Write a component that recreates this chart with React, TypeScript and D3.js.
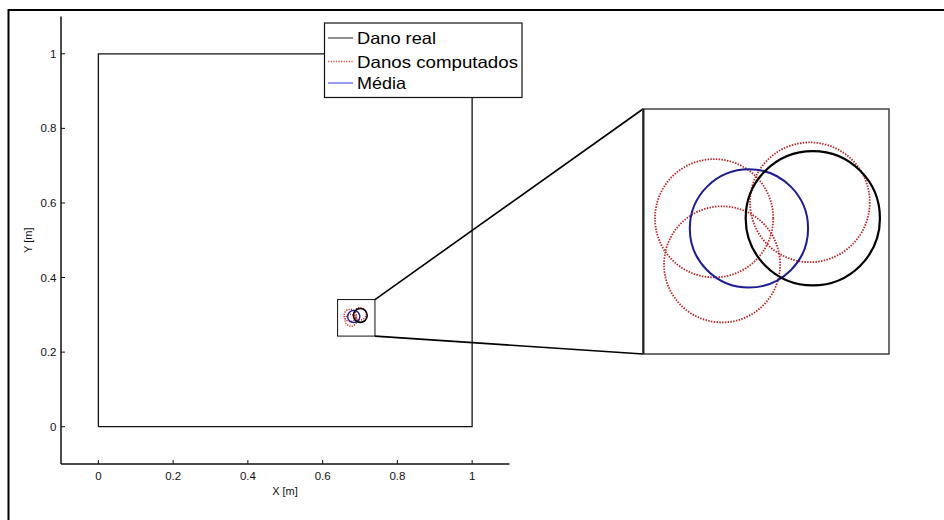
import React from "react";
import * as d3 from "d3";

// ---- data ----
const plateX = [0, 1, 1, 0, 0];
const plateY = [0, 0, 1, 1, 0];

const realDamage = { cx: 0.7008, cy: 0.2984, r: 0.0185 };
const computedCx = [0.6736, 0.7, 0.6758];
const computedCy = [0.2984, 0.3028, 0.2857];
const computedR = [0.0163, 0.0165, 0.016];
const meanDamage = { cx: 0.6832, cy: 0.2956, r: 0.0163 };

const zoomBoxX = [0.64, 0.74];
const zoomBoxY = [0.243, 0.341];
const insetDomainX = [0.654, 0.7218];
const insetDomainY = [0.2610, 0.3285];

const xTicks = [0, 0.2, 0.4, 0.6, 0.8, 1];
const yTicks = [0, 0.2, 0.4, 0.6, 0.8, 1];
const xDomain = [-0.1, 1.1];
const yDomain = [-0.1, 1.1];

const legendLabels = ["Dano real", "Danos computados", "Média"];

const W = 944;
const H = 520;
const FONT = "'Liberation Sans', Arial, Helvetica, sans-serif";
const RED = "#c02828";
const BLUE = "#1c1c94";

export default function App() {
  const x = d3.scaleLinear().domain(xDomain).range([61, 509.5]);
  const y = d3.scaleLinear().domain(yDomain).range([464, 16.5]);

  const ix = d3.scaleLinear().domain(insetDomainX).range([643, 889]);
  const iy = d3.scaleLinear().domain(insetDomainY).range([354, 109]);

  const plateLine = d3
    .line<number>()
    .x((_, i) => x(plateX[i]))
    .y((d) => y(d));

  const computed = computedCx.map((cx, i) => ({ cx, cy: computedCy[i], r: computedR[i] }));

  const fmt = (v: number) => (v === 0 || v === 1 ? String(v) : d3.format(".1f")(v));

  const circlesFor = (
    sx: d3.ScaleLinear<number, number>,
    sy: d3.ScaleLinear<number, number>,
    big: boolean
  ) => (
    <g>
      {computed.map((c, i) => (
        <circle
          key={"c" + i}
          cx={sx(c.cx)}
          cy={sy(c.cy)}
          r={sx(c.cx + c.r) - sx(c.cx)}
          fill="none"
          stroke={RED}
          strokeWidth={big ? 1.8 : 1.3}
          strokeDasharray={big ? "1.5,1.3" : "1.2,1.2"}
        />
      ))}
      <circle
        cx={sx(meanDamage.cx)}
        cy={sy(meanDamage.cy)}
        r={sx(meanDamage.cx + meanDamage.r) - sx(meanDamage.cx)}
        fill="none"
        stroke={BLUE}
        strokeWidth={big ? 2 : 1.4}
      />
      <circle
        cx={sx(realDamage.cx)}
        cy={sy(realDamage.cy)}
        r={sx(realDamage.cx + realDamage.r) - sx(realDamage.cx)}
        fill="none"
        stroke="#000"
        strokeWidth={big ? 2.2 : 1.6}
      />
    </g>
  );

  const bx0 = x(zoomBoxX[0]);
  const bx1 = x(zoomBoxX[1]);
  const by0 = y(zoomBoxY[1]);
  const by1 = y(zoomBoxY[0]);

  const legendY = [38, 61.5, 83];
  const legendLen = [79, 161, 49];

  return (
    <svg
      width={W}
      height={H}
      style={{ position: "absolute", left: 0, top: 0, background: "#fff" }}
      fontFamily={FONT}
    >
      <rect x={0} y={0} width={W} height={H} fill="#fff" />
      {/* outer frame */}
      <line x1={8.5} y1={9} x2={8.5} y2={H} stroke="#000" strokeWidth={2} />
      <line x1={8} y1={10} x2={W} y2={10} stroke="#000" strokeWidth={2} />

      {/* axes */}
      <line x1={x(xDomain[0])} y1={y(yDomain[0])} x2={x(xDomain[1])} y2={y(yDomain[0])} stroke="#111" strokeWidth={1.5} />
      <line x1={x(xDomain[0])} y1={y(yDomain[0])} x2={x(xDomain[0])} y2={y(yDomain[1])} stroke="#111" strokeWidth={1.5} />
      {xTicks.map((t) => (
        <g key={"xt" + t}>
          <line x1={x(t)} x2={x(t)} y1={y(yDomain[0])} y2={y(yDomain[0]) - 4} stroke="#111" strokeWidth={1} />
          <text x={x(t)} y={479.5} textAnchor="middle" fontSize={11.5} fill="#111">
            {fmt(t)}
          </text>
        </g>
      ))}
      {yTicks.map((t) => (
        <g key={"yt" + t}>
          <line x1={x(xDomain[0])} x2={x(xDomain[0]) + 4} y1={y(t)} y2={y(t)} stroke="#111" strokeWidth={1} />
          <text x={56.5} y={y(t) + 4} textAnchor="end" fontSize={11.5} fill="#111">
            {fmt(t)}
          </text>
        </g>
      ))}
      <text x={285} y={495} textAnchor="middle" fontSize={11} fill="#111">
        X [m]
      </text>
      <text
        transform={`translate(32,${y(0.5)}) rotate(-90)`}
        textAnchor="middle"
        fontSize={11}
        fill="#111"
      >
        Y [m]
      </text>

      {/* plate */}
      <path d={plateLine(plateY) || ""} fill="none" stroke="#111" strokeWidth={1.3} />

      {/* small circles */}
      {circlesFor(x, y, false)}

      {/* zoom box */}
      <rect x={bx0} y={by0} width={bx1 - bx0} height={by1 - by0} fill="none" stroke="#111" strokeWidth={1} />

      {/* connectors */}
      <line x1={bx1} y1={by0} x2={643} y2={109} stroke="#000" strokeWidth={1.6} />
      <line x1={bx1} y1={by1} x2={643} y2={354} stroke="#000" strokeWidth={1.6} />

      {/* inset */}
      <defs>
        <clipPath id="insetClip">
          <rect x={643} y={109} width={246} height={245} />
        </clipPath>
      </defs>
      <rect x={643} y={109} width={246} height={245} fill="#fff" stroke="#333" strokeWidth={1.4} />
      <g clipPath="url(#insetClip)">{circlesFor(ix, iy, true)}</g>
      <line x1={643.5} y1={109} x2={643.5} y2={354} stroke="#222" strokeWidth={2} />

      {/* legend */}
      <rect x={324.5} y={23} width={197.5} height={74.5} fill="#fff" stroke="#111" strokeWidth={1.2} />
      {legendLabels.map((lab, i) => (
        <g key={lab}>
          <line
            x1={328}
            x2={353}
            y1={legendY[i]}
            y2={legendY[i]}
            stroke={i === 0 ? "#333" : i === 1 ? "#ff5050" : "#4a4ae8"}
            strokeWidth={i === 1 ? 1.3 : 1.1}
            strokeDasharray={i === 1 ? "1.3,1.3" : undefined}
          />
          <text
            x={357}
            y={legendY[i] + 6}
            fontSize={16.5}
            fill="#000"
            textLength={legendLen[i]}
            lengthAdjust="spacingAndGlyphs"
          >
            {lab}
          </text>
        </g>
      ))}
    </svg>
  );
}
